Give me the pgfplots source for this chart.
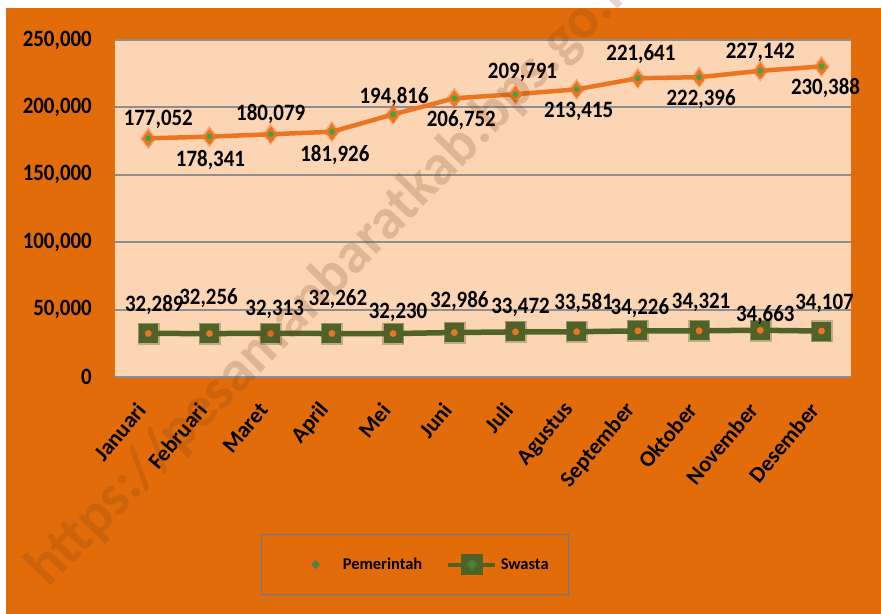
\documentclass[border=0pt]{standalone}
\usepackage{graphicx}
\usepackage{pgfplots}
\pgfplotsset{compat=1.18}
\usepackage{pgfplotstable}
\usepackage{fontspec}
\setmainfont{Carlito}
\definecolor{bgorange}{HTML}{E36C0A}
\definecolor{peach}{HTML}{FCD5B5}
\definecolor{lineorange}{HTML}{EC7522}
\definecolor{olive}{HTML}{4F6228}
\definecolor{mkgreen}{HTML}{3FA344}
\definecolor{gridgray}{HTML}{8E8E8E}
\definecolor{legblue}{HTML}{4A7EBB}
\definecolor{wm}{HTML}{6E3A14}
\newcommand{\T}[1]{\scalebox{1}[1.12]{#1}}

\pgfplotstableread{
x y lab dx dy
0 177052 177,052 10 19
1 178341 178,341 1 -23
2 180079 180,079 0 20
3 181926 181,926 3 -23
4 194816 194,816 1 17
5 206752 206,752 7 -22
6 209791 209,791 7 22
7 213415 213,415 2 -22
8 221641 221,641 3 24
9 222396 222,396 2 -22
10 227142 227,142 0 18
11 230388 230,388 4 -22
}\pemerintah

\pgfplotstableread{
x y lab dx dy
0 32289 32,289 6 28
1 32256 32,256 -1 35
2 32313 32,313 4 24
3 32262 32,262 6 34
4 32230 32,230 5 21
5 32986 32,986 5 32
6 33472 33,472 5 24
7 33581 33,581 7 29
8 34226 34,226 2 23
9 34321 34,321 2 28
10 34663 34,663 5 15
11 34107 34,107 3 28
}\swasta

\pgfplotsset{
  lbl/.style={
    point meta=explicit symbolic, nodes near coords={\T{\pgfplotspointmeta}},
    visualization depends on={\thisrow{dx} \as \mydx},
    visualization depends on={\thisrow{dy} \as \mydy},
    every node near coord/.append style={font=\fontsize{21}{25}\selectfont\bfseries,
      text=black, anchor=center, xshift={\mydx*1bp}, yshift={\mydy*1bp}, inner sep=0pt},
  }
}

\begin{document}
\begin{tikzpicture}
\useasboundingbox (-115bp,-237bp) rectangle (766bp,377bp);
\fill[white] (-115bp,-237bp) rectangle (766bp,377bp);
\fill[bgorange] (-109bp,-237bp) rectangle (766bp,369bp);
\begin{axis}[
  at={(0,0)}, anchor=south west,
  scale only axis, width=736bp, height=337bp,
  xmin=-0.544, xmax=11.482, ymin=0, ymax=250000,
  scaled y ticks=false,
  axis line style={draw=none},
  major tick length=0pt,
  xtick={0,...,11},
  xticklabels={Januari,Februari,Maret,April,Mei,Juni,Juli,Agustus,September,Oktober,November,Desember},
  ytick={0,50000,100000,150000,200000,250000},
  yticklabels={{\T{0}},{\T{50,000}},{\T{100,000}},{\T{150,000}},{\T{200,000}},{\T{250,000}}},
  ymajorgrids, grid style={gridgray, line width=2bp},
  axis background/.style={fill=peach},
  tick label style={font=\fontsize{21}{25}\selectfont\bfseries},
  yticklabel style={anchor=east, inner sep=0pt, xshift=-23bp},
  xticklabel style={font=\fontsize{22.5}{26}\selectfont\bfseries, inner sep=0pt, xshift=-7bp, yshift=-29bp, rotate=50, anchor=east},
  clip=false,
  legend style={at={(0.4076,-0.5564)}, anchor=center, draw=legblue, line width=1.2bp,
    fill=bgorange, inner xsep=0pt, inner ysep=19bp,
    font=\fontsize{16.5}{20}\selectfont\bfseries,
    nodes={inner xsep=0pt, inner ysep=0pt, text=black}},
  legend columns=2, legend cell align=left,
]
% Pemerintah
\addplot[lineorange, line width=4.5bp, mark=diamond*, mark size=8bp,
  mark options={fill=lineorange, draw=lineorange, line width=0pt}, lbl,
  legend image code/.code={
    \path (0bp,0bp) (77bp,0bp);
    \fill[lineorange!85!red, opacity=0.7] (52bp,0bp) circle (5bp);
    \fill[mkgreen!60!olive] (52bp,0bp) circle (1.3bp);
  }] table[x=x,y=y,meta=lab]{\pemerintah};
\addlegendentry{Pemerintah}
\addplot[only marks, mark=diamond*, mark size=10.5bp, lineorange, opacity=0.35, forget plot] table[x=x,y=y]{\pemerintah};
\addplot[only marks, mark=*, mark size=2.6bp, mkgreen, forget plot] table[x=x,y=y]{\pemerintah};
% Swasta
\addplot[only marks, mark=square*, mark size=10.5bp, olive, opacity=0.35, forget plot] table[x=x,y=y]{\swasta};
\addplot[olive, line width=5.5bp, mark=square*, mark size=9bp,
  mark options={fill=olive, draw=olive, line width=0pt}, lbl,
  legend image code/.code={
    \path (0bp,0bp) (73bp,0bp);
    \draw[olive, line width=4bp] (23bp,0bp) -- (70bp,0bp);
    \fill[olive] (39bp,-8bp) rectangle (55bp,8bp);
    \fill[mkgreen!50!olive] (47bp,0bp) circle (1.5bp);
  }] table[x=x,y=y,meta=lab]{\swasta};
\addlegendentry{Swasta\rule{20bp}{0pt}}
\addplot[only marks, mark=*, mark size=3.2bp, lineorange, forget plot] table[x=x,y=y]{\swasta};
\end{axis}
\begin{scope}
\clip (-115bp,-237bp) rectangle (766bp,377bp);
\node[rotate=45.5, anchor=base west, text=wm, opacity=0.2, inner sep=0pt,
  font=\fontsize{58}{62}\selectfont\bfseries] at (-67bp,-212bp) {https://pesamanbaratkab.bps.go.id};
\end{scope}
\end{tikzpicture}
\end{document}
